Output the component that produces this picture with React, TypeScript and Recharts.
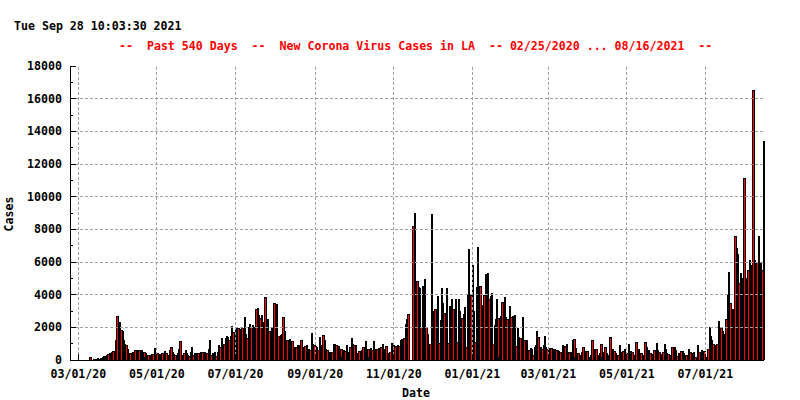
import React from 'react';
import { BarChart, Bar, XAxis, YAxis, ReferenceLine } from 'recharts';

const CHART_W = 800;
const CHART_H = 400;
const Y_AXIS_W = 70;
const X_AXIS_H = 40;
const MARGIN = { top: 66, right: 36, bottom: 0, left: 0 };
const PLOT_W = CHART_W - Y_AXIS_W - MARGIN.right;
const FONT = '"DejaVu Sans Mono", "Liberation Mono", monospace';
const RED = '#ff0000';
const GRID = '#a0a0a0';

// daily new cases, first bar = 02/24/20
const cases = [
  0, 0, 0, 0, 0, 0, 0, 0, 0, 0,
  0, 0, 10, 5, 10, 160, 20, 30, 60, 50,
  80, 100, 90, 120, 140, 200, 250, 220, 300, 350,
  420, 380, 500, 550, 550, 1220, 2700, 1080, 2300, 1840,
  1800, 1220, 980, 900, 650, 420, 400, 420, 500, 510,
  590, 560, 610, 620, 610, 600, 510, 480, 400, 300,
  330, 265, 280, 370, 350, 714, 450, 408, 245, 350,
  300, 408, 245, 550, 400, 245, 300, 612, 775, 500,
  367, 300, 306, 400, 700, 1160, 306, 204, 400, 612,
  450, 300, 265, 500, 775, 306, 450, 450, 450, 400,
  450, 510, 510, 306, 510, 450, 450, 650, 1220, 286,
  400, 450, 510, 265, 500, 918, 816, 1330, 918, 1000,
  1330, 1490, 1430, 1200, 1470, 2080, 1730, 1500, 1940, 2000,
  1940, 1880, 1900, 1950, 1800, 2610, 1600, 1330, 2000, 2200,
  2040, 2150, 2000, 1900, 3100, 3160, 2750, 2600, 2750, 2300,
  2100, 3835, 2400, 2500, 1750, 1700, 2050, 1800, 3470, 3000,
  3430, 1470, 1500, 1550, 1600, 2610, 1800, 1160, 1200, 1220,
  1260, 800, 1160, 800, 610, 816, 900, 920, 800, 1220,
  800, 610, 850, 900, 610, 700, 600, 1630, 1000, 900,
  850, 800, 600, 1430, 900, 700, 1530, 1200, 700, 610,
  408, 500, 510, 510, 1000, 980, 900, 700, 850, 700,
  700, 580, 600, 560, 900, 300, 500, 800, 1330, 950,
  900, 900, 400, 200, 560, 550, 600, 800, 200, 1180,
  700, 650, 700, 750, 600, 1180, 700, 650, 700, 750,
  650, 800, 950, 600, 700, 850, 400, 400, 500, 1020,
  1060, 900, 850, 800, 900, 850, 1200, 1270, 1220, 1330,
  2180, 2500, 2790, 0, 0, 0, 8200, 8980, 4700, 4830,
  4490, 4400, 2000, 4530, 4300, 4960, 2000, 1590, 245, 1000,
  8935, 2750, 3000, 3120, 2800, 3920, 1020, 2450, 4400, 3500,
  2860, 2300, 4400, 1020, 3300, 2900, 3750, 3100, 2600, 3730,
  1080, 3710, 3000, 2550, 2550, 2800, 3220, 775, 3960, 6770,
  245, 4000, 5810, 3000, 1120, 4450, 6900, 4000, 4530, 3370,
  1390, 4000, 5260, 4710, 5300, 3730, 3900, 4080, 960, 2140,
  2500, 3710, 2550, 1940, 2700, 3570, 2450, 3835, 2650, 2500,
  2350, 3300, 2610, 2700, 2650, 2750, 880, 1940, 1400, 1330,
  1330, 2650, 1200, 1120, 1200, 510, 600, 710, 650, 300,
  815, 900, 1800, 1430, 815, 815, 700, 920, 1470, 815,
  700, 510, 710, 710, 650, 610, 650, 610, 600, 550,
  510, 510, 920, 700, 880, 980, 410, 510, 500, 245,
  1220, 1260, 714, 450, 408, 300, 200, 500, 775, 510,
  550, 550, 200, 100, 300, 1220, 650, 650, 650, 300,
  100, 400, 960, 500, 400, 775, 450, 300, 200, 1390,
  700, 650, 570, 400, 200, 300, 920, 500, 400, 570,
  650, 250, 400, 980, 450, 550, 510, 300, 200, 1080,
  600, 650, 450, 408, 300, 200, 1080, 800, 450, 610,
  400, 350, 200, 610, 500, 1020, 600, 470, 350, 200,
  500, 960, 650, 400, 350, 200, 300, 816, 100, 816,
  600, 245, 400, 100, 550, 550, 400, 300, 300, 200,
  673, 500, 300, 400, 480, 200, 100, 920, 500, 400,
  600, 550, 550, 200, 100, 700, 2040, 1500, 1220, 980,
  900, 600, 1000, 2400, 980, 1980, 1800, 1590, 1200, 2500,
  3980, 5390, 3500, 3120, 3120, 300, 7590, 6830, 6500, 4730,
  5300, 5000, 100, 11140, 4790, 5000, 5500, 6120, 5800, 4800,
  16560, 6120, 5470, 6000, 7590, 5500, 6000, 5500, 13400,
];

const pad = (n: number) => String(n).padStart(2, '0');
const dates = cases.map((_, i) => {
  const d = new Date(2020, 1, 24 + i);
  return `${pad(d.getMonth() + 1)}/${pad(d.getDate())}/${String(d.getFullYear()).slice(2)}`;
});

const data = cases.map((c, i) => ({ date: dates[i], cases: c }));

const xMajorTicks = [
  '03/01/20', '05/01/20', '07/01/20', '09/01/20', '11/01/20',
  '01/01/21', '03/01/21', '05/01/21', '07/01/21',
];
const yMajorTicks = [0, 2000, 4000, 6000, 8000, 10000, 12000, 14000, 16000, 18000];
const yMinorTicks = [1000, 3000, 5000, 7000, 9000, 11000, 13000, 15000, 17000];

const TIMESTAMP = 'Tue Sep 28 10:03:30 2021';
const TITLE = '--  Past 540 Days  --  New Corona Virus Cases in LA  -- 02/25/2020 ... 08/16/2021  --';

// minor x tics: 6 steps between labelled dates
const majorIdx = xMajorTicks.map((t) => dates.indexOf(t));
const xMinorTicks: string[] = [];
majorIdx.forEach((a, k) => {
  const b = k + 1 < majorIdx.length ? majorIdx[k + 1] : a + 61;
  for (let m = 1; m < 6; m++) {
    const j = a + Math.round((m * (b - a)) / 6);
    if (j < dates.length) xMinorTicks.push(dates[j]);
  }
});
const xTicks = [...xMajorTicks, ...xMinorTicks];
const yTicks = [...yMajorTicks, ...yMinorTicks];

const textStyle = { fontFamily: FONT, fontWeight: 'bold' as const, fontSize: 11.6 };

function XTick(props: any) {
  const { x, y, payload, side } = props;
  const major = xMajorTicks.includes(payload.value);
  const len = major ? 6 : 3;
  const dir = side === 'bottom' ? -1 : 1;
  return (
    <g>
      <line x1={x} x2={x} y1={y} y2={y + dir * len} stroke="#000" shapeRendering="crispEdges" />
      {side === 'bottom' && major && (
        <text x={x} y={y + 18} textAnchor="middle" fill="#000" style={textStyle}>
          {payload.value}
        </text>
      )}
    </g>
  );
}

function YTick(props: any) {
  const { x, y, payload, side } = props;
  const major = payload.value % 2000 === 0;
  const len = major ? 6 : 3;
  const dir = side === 'left' ? 1 : -1;
  return (
    <g>
      <line x1={x} x2={x + dir * len} y1={y} y2={y} stroke="#000" shapeRendering="crispEdges" />
      {side === 'left' && major && (
        <text x={x - 8} y={y + 4} textAnchor="end" fill="#000" style={textStyle}>
          {payload.value}
        </text>
      )}
    </g>
  );
}

// gnuplot style box: black outline, red inside when it is wide enough
function Box(props: any) {
  const { x, y, height } = props;
  if (!height || height <= 0) return <g />;
  const band = PLOT_W / cases.length;
  const left = Math.round(x);
  const right = Math.round(x + band);
  const top = Math.round(y);
  const bottom = Math.round(y + height);
  const w = right - left + 1;
  const h = bottom - top;
  if (h < 1) return <g />;
  return (
    <g shapeRendering="crispEdges">
      <rect x={left} y={top} width={w} height={h} fill="#000" />
      {w > 2 && h > 1 && <rect x={left + 1} y={top + 1} width={w - 2} height={h - 1} fill={RED} />}
    </g>
  );
}

export default function App() {
  return (
    <div style={{ position: 'absolute', left: 0, top: 0, width: CHART_W, height: CHART_H, background: '#fff' }}>
      <BarChart
        width={CHART_W}
        height={CHART_H}
        data={data}
        margin={MARGIN}
        barCategoryGap={0}
        barGap={0}
      >
        <XAxis
          dataKey="date"
          height={X_AXIS_H}
          ticks={xTicks}
          interval={0}
          tickSize={0}
          tickMargin={0}
          tickLine={false}
          axisLine={{ stroke: '#000', shapeRendering: 'crispEdges' }}
          tick={(p: any) => <XTick {...p} side="bottom" />}
        />
        <XAxis
          xAxisId="top"
          orientation="top"
          dataKey="date"
          height={0}
          ticks={xTicks}
          interval={0}
          tickSize={0}
          tickMargin={0}
          tickLine={false}
          axisLine={{ stroke: '#000', shapeRendering: 'crispEdges' }}
          tick={(p: any) => <XTick {...p} side="top" />}
        />
        <YAxis
          width={Y_AXIS_W}
          type="number"
          domain={[0, 18000]}
          ticks={yTicks}
          interval={0}
          tickSize={0}
          tickMargin={0}
          tickLine={false}
          axisLine={{ stroke: '#000', shapeRendering: 'crispEdges' }}
          tick={(p: any) => <YTick {...p} side="left" />}
        />
        <YAxis
          yAxisId="right"
          orientation="right"
          width={0}
          type="number"
          domain={[0, 18000]}
          allowDataOverflow
          ticks={yTicks}
          interval={0}
          tickSize={0}
          tickMargin={0}
          tickLine={false}
          axisLine={{ stroke: '#000', shapeRendering: 'crispEdges' }}
          tick={(p: any) => <YTick {...p} side="right" />}
        />
        <Bar dataKey="cases" isAnimationActive={false} shape={(p: any) => <Box {...p} />} />
        {yMajorTicks
          .filter((v) => v > 0 && v < 18000)
          .map((v) => (
            <ReferenceLine
              key={'y' + v}
              y={v}
              stroke={GRID}
              strokeDasharray="3 2"
              shapeRendering="crispEdges"
            />
          ))}
        {xMajorTicks.map((t) => (
          <ReferenceLine
            key={'x' + t}
            x={t}
            stroke={GRID}
            strokeDasharray="3 2"
            shapeRendering="crispEdges"
          />
        ))}
      </BarChart>
      <svg
        width={CHART_W}
        height={CHART_H}
        style={{ position: 'absolute', left: 0, top: 0, pointerEvents: 'none' }}
      >
        <text x={14} y={30} fill="#000" style={textStyle}>
          {TIMESTAMP}
        </text>
        <text x={119} y={50} fill={RED} xmlSpace="preserve" style={{ ...textStyle, whiteSpace: 'pre' }}>
          {TITLE}
        </text>
        <text x={416} y={397} textAnchor="middle" fill="#000" style={textStyle}>
          Date
        </text>
        <text x={13} y={214} textAnchor="middle" transform="rotate(-90 13 214)" fill="#000" style={textStyle}>
          Cases
        </text>
      </svg>
    </div>
  );
}
